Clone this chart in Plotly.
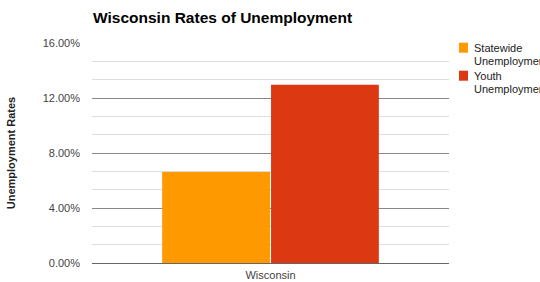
import plotly.graph_objects as go

categories = ["Wisconsin"]
statewide = [0.0662]
youth = [0.1297]
series_names = ["Statewide Unemployment", "Youth Unemployment"]
series_colors = ["#ff9900", "#dc3912"]
y_ticks = [0, 0.04, 0.08, 0.12, 0.16]

W, H = 540, 282
L, R, T, B = 92, 91, 43.3, 18.7
plot_w = W - L - R
plot_h = H - T - B

fig = go.Figure()
for name, vals, col in zip(series_names, [statewide, youth], series_colors):
    fig.add_trace(go.Bar(x=categories, y=vals, name=name, showlegend=False,
                         marker=dict(color=col, line=dict(width=0))))

# Legend (drawn as squares + text to match the compact original legend)
def px_x(x):
    return (x - L) / plot_w

def px_y(y):
    return 1 - (y - T) / plot_h

shapes = []
annotations = []
entry_tops = [43, 71]
for name, col, top in zip(series_names, series_colors, entry_tops):
    shapes.append(dict(type="rect", xref="paper", yref="paper",
                       x0=px_x(459), x1=px_x(468), y0=px_y(top + 10), y1=px_y(top),
                       fillcolor=col, line=dict(width=0)))
    for i, word in enumerate(name.split(" ")):
        annotations.append(dict(text=word, xref="paper", yref="paper",
                                x=px_x(472), y=px_y(top + 5 + 13.5 * i),
                                xanchor="left", yanchor="middle", showarrow=False,
                                font=dict(size=11, color="#222")))

fig.update_layout(
    width=W, height=H,
    margin=dict(l=L, r=R, t=T, b=B, autoexpand=False),
    paper_bgcolor="white", plot_bgcolor="white",
    barmode="group", bargap=0.39, bargroupgap=0.01,
    font=dict(family="Liberation Sans, Arial, sans-serif", size=11, color="#444"),
    title=dict(text="<b>Wisconsin Rates of Unemployment</b>", x=93 / W, xanchor="left",
               y=1 - 18 / H, yanchor="middle",
               font=dict(size=15.5, color="#000")),
    showlegend=False,
    hovermode=False,
    shapes=shapes,
    annotations=annotations,
    xaxis=dict(showgrid=False, ticks="", showline=False, ticklabelstandoff=4,
               tickfont=dict(size=11, color="#444")),
    yaxis=dict(range=[0, 0.16], tickvals=y_ticks, tickformat=".2%",
               showgrid=True, gridcolor="#888", gridwidth=1,
               zeroline=True, zerolinecolor="#666", zerolinewidth=1,
               ticks="", showline=False, ticklabelstandoff=11,
               minor=dict(dtick=0.04 / 3, tick0=0, showgrid=True, gridcolor="#dddddd", gridwidth=1),
               title=dict(text="<b>Unemployment Rates</b>", font=dict(size=11, color="#222"), standoff=24),
               tickfont=dict(size=11, color="#444")),
)
fig.write_html("out.html", config={"displayModeBar": False},
               post_script="document.body.style.margin='0px';")
